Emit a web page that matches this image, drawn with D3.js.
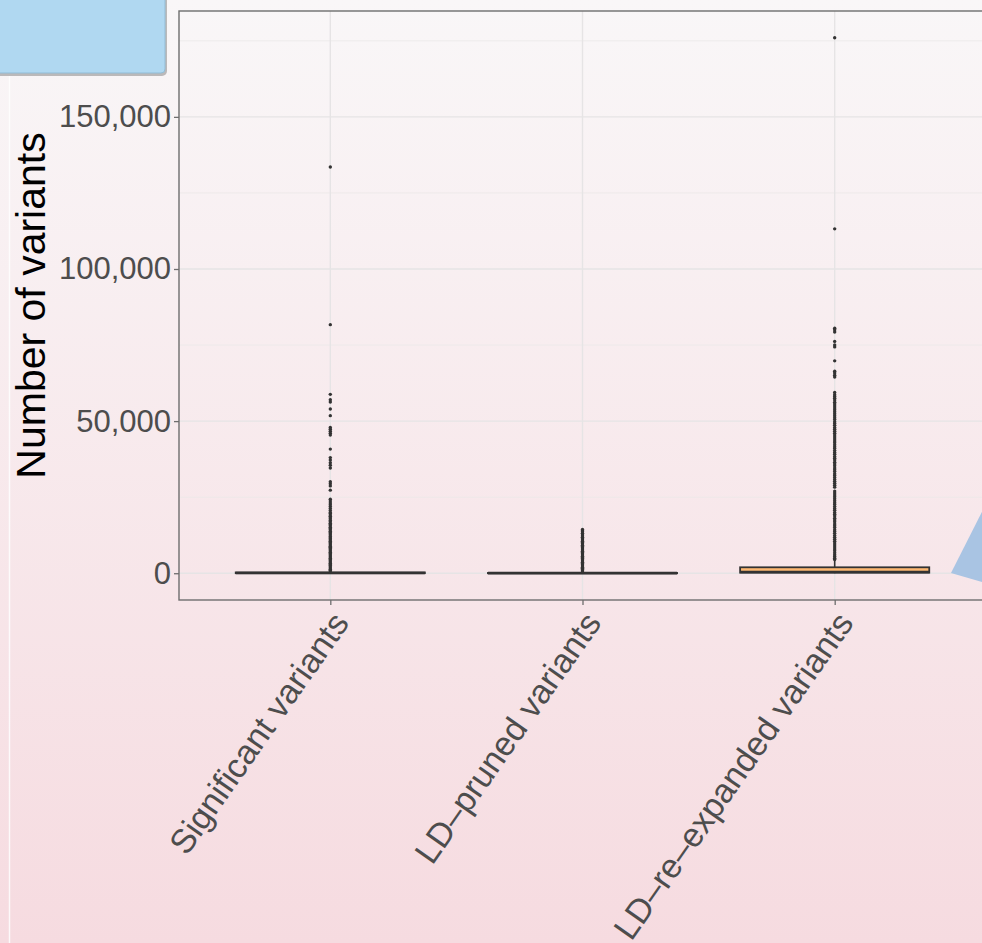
<!DOCTYPE html>
<html>
<head>
<meta charset="utf-8">
<script src="https://cdn.jsdelivr.net/npm/d3@7"></script>
<style>
  html, body { margin: 0; padding: 0; overflow: hidden; }
  svg { display: block; }
</style>
</head>
<body>
<script>
// Variant counts per locus, summarised as boxplots for three variant sets.
const categories = ["Significant variants", "LD\u2013pruned variants", "LD\u2013re\u2013expanded variants"];

// Box statistics: lower whisker, Q1, median, Q3, upper whisker
const whiskerLow  = [1, 1, 1];
const q1Values    = [20, 5, 180];
const medianValues = [80, 20, 420];
const q3Values    = [260, 90, 1950];
const whiskerHigh = [620, 210, 4300];

// Outlying loci (number of variants)
const outliersSignificant = [
  133500, 81700, 58800, 57000, 56300, 54000, 51800, 47900, 47300, 46700, 46000, 45400,
  40800, 38000, 37200, 36300, 35500, 34600, 30100, 29400, 28700, 27300, 24300, 23700,
  23100, 22500, 21900, 21300, 20600, 20000, 19600, 19100, 18700, 18200, 17800, 17300,
  16900, 16400, 16000, 15600, 15100, 14700, 14300, 13800, 13400, 13000, 12600, 12100,
  11700, 11300, 10900, 10500, 10100, 9700, 9300, 8900, 8500, 8100, 7700, 7300, 6900,
  6500, 6100, 5700, 5300, 4900, 4500, 4100, 3700, 3300, 2900, 2500, 2100, 1700, 1300,
  900, 700
];
const outliersPruned = [
  14400, 14000, 13600, 13100, 12600, 12200, 11800, 11300, 10900, 10500, 10100, 9700,
  9200, 8800, 8400, 8000, 7600, 7200, 6800, 6400, 6000, 5600, 5200, 4800, 4400, 4000,
  3600, 3200, 2800, 2400, 2000, 1600, 1200, 800, 400
];
const outliersExpanded = [
  176000, 113200, 80500, 80000, 79300, 76200, 75000, 74400, 69800, 66400, 65800, 65100,
  64500, 59400, 58700, 58100, 57500, 56900, 56200, 55600, 55000, 54300, 53700, 53100,
  52400, 51800, 51100, 50500, 49800, 49200, 48600, 47900, 47300, 46700, 46000, 45400,
  44800, 44100, 43500, 42900, 42200, 41600, 41000, 40300, 39700, 39100, 38400, 37800,
  37200, 36500, 35900, 35300, 34600, 34000, 33400, 32700, 32100, 31500, 30800, 30200,
  29600, 28900, 28300, 27000, 26400, 25700, 25100, 24500, 23800, 23200, 22600, 21900,
  21300, 20700, 20000, 19400, 18800, 18100, 17500, 16900, 16200, 15600, 15000, 14300,
  13700, 13100, 12400, 11800, 11200, 10500, 9900, 9300, 8600, 8000, 7400, 6700, 6100,
  5500, 4900, 4500
];
const outlierSets = [outliersSignificant, outliersPruned, outliersExpanded];

const yTicks = [0, 50000, 100000, 150000];
const yMinorTicks = [25000, 75000, 125000, 175000];
const yDomain = [-8800, 184800];

const W = 982, H = 943;
const panel = { left: 179, top: 11, bottom: 600, right: 986 };
const labelAngle = 55;

const svg = d3.select("body").append("svg").attr("width", W).attr("height", H);
const defs = svg.append("defs");

// Page background: soft vertical gradient
const bg = defs.append("linearGradient").attr("id", "bgGrad")
  .attr("x1", 0).attr("y1", 0).attr("x2", 0).attr("y2", 1);
bg.append("stop").attr("offset", "0%").attr("stop-color", "#f9f7f8");
bg.append("stop").attr("offset", "100%").attr("stop-color", "#f6dbe0");
svg.append("rect").attr("width", W).attr("height", H).attr("fill", "url(#bgGrad)");

// Decorative frame pieces
svg.append("line").attr("x1", 9.5).attr("x2", 9.5).attr("y1", 76).attr("y2", H)
  .attr("stroke", "#ffffff").attr("stroke-width", 1.5).attr("opacity", 0.85);
svg.append("rect").attr("x", -12).attr("y", -12).attr("width", 179).attr("height", 88)
  .attr("rx", 5).attr("fill", "#7d7d7d").attr("opacity", 0.5);
svg.append("rect").attr("x", -12).attr("y", -12).attr("width", 177).attr("height", 85)
  .attr("rx", 4).attr("fill", "#b0d8f1").attr("stroke", "#93bdd6").attr("stroke-width", 1);

// Scales
const x = d3.scaleLinear().domain([0.4, 3.6]).range([panel.left, panel.right]);
const y = d3.scaleLinear().domain(yDomain).range([panel.bottom, panel.top]);
const band = x(1) - x(0);
const boxW = band * 0.75;

// Grid
const grid = svg.append("g");
grid.selectAll("line.minor").data(yMinorTicks).join("line")
  .attr("x1", panel.left).attr("x2", panel.right)
  .attr("y1", d => y(d)).attr("y2", d => y(d))
  .attr("stroke", "#ebe8e9").attr("stroke-width", 0.8);
grid.selectAll("line.major").data(yTicks).join("line")
  .attr("x1", panel.left).attr("x2", panel.right)
  .attr("y1", d => y(d)).attr("y2", d => y(d))
  .attr("stroke", "#e6e4e5").attr("stroke-width", 1.4);
grid.selectAll("line.vx").data(categories).join("line")
  .attr("x1", (d, i) => x(i + 1)).attr("x2", (d, i) => x(i + 1))
  .attr("y1", panel.top).attr("y2", panel.bottom)
  .attr("stroke", "#e6e4e5").attr("stroke-width", 1.4);

// Boxplots
const boxes = svg.append("g");
categories.forEach((c, i) => {
  const cx = x(i + 1);
  const g = boxes.append("g");
  g.append("line").attr("x1", cx).attr("x2", cx)
    .attr("y1", y(q3Values[i])).attr("y2", y(whiskerHigh[i]))
    .attr("stroke", "#333333").attr("stroke-width", 1.6);
  g.append("line").attr("x1", cx).attr("x2", cx)
    .attr("y1", y(q1Values[i])).attr("y2", y(whiskerLow[i]))
    .attr("stroke", "#333333").attr("stroke-width", 1.6);
  g.append("rect")
    .attr("x", cx - boxW / 2).attr("width", boxW)
    .attr("y", y(q3Values[i])).attr("height", Math.max(0, y(q1Values[i]) - y(q3Values[i])))
    .attr("fill", "#fdb872").attr("stroke", "#333333").attr("stroke-width", 1.8);
  g.append("line").attr("x1", cx - boxW / 2).attr("x2", cx + boxW / 2)
    .attr("y1", y(medianValues[i])).attr("y2", y(medianValues[i]))
    .attr("stroke", "#333333").attr("stroke-width", 2.6);
  g.selectAll("circle").data(outlierSets[i]).join("circle")
    .attr("cx", cx).attr("cy", d => y(d)).attr("r", 1.7)
    .attr("fill", "#333333");
});

// Panel border
svg.append("rect").attr("x", panel.left).attr("y", panel.top)
  .attr("width", panel.right - panel.left).attr("height", panel.bottom - panel.top)
  .attr("fill", "none").attr("stroke", "#6e6e6e").attr("stroke-width", 1.4);

// Y axis
const yAxis = svg.append("g").attr("transform", `translate(${panel.left},0)`)
  .call(d3.axisLeft(y).tickValues(yTicks).tickSize(5).tickPadding(3)
    .tickFormat(d3.format(",")));
yAxis.select(".domain").remove();
yAxis.selectAll(".tick line").attr("stroke", "#6e6e6e").attr("stroke-width", 1.3);
yAxis.selectAll(".tick text").attr("fill", "#4d4d4d")
  .style("font-family", "'Liberation Sans', Arial, sans-serif").style("font-size", "31px");

// X axis
const xAxis = svg.append("g").attr("transform", `translate(0,${panel.bottom})`)
  .call(d3.axisBottom(x).tickValues([1, 2, 3]).tickSize(5).tickFormat(""));
xAxis.select(".domain").remove();
xAxis.selectAll(".tick line").attr("stroke", "#6e6e6e").attr("stroke-width", 1.3);

// Category labels, rotated and right-aligned under each tick
svg.append("g").selectAll("text").data(categories).join("text")
  .attr("transform", (d, i) => `translate(${x(i + 1) + 20},${panel.bottom + 23}) rotate(${-labelAngle})`)
  .attr("text-anchor", "end")
  .attr("fill", "#4d4d4d")
  .style("font-family", "'Liberation Sans', Arial, sans-serif").style("font-size", "34px")
  .text(d => d);

// Y axis title
svg.append("text")
  .attr("transform", `translate(45,${(panel.top + panel.bottom) / 2}) rotate(-90)`)
  .attr("text-anchor", "middle").attr("fill", "#000000")
  .style("font-family", "'Liberation Sans', Arial, sans-serif").style("font-size", "41px")
  .text("Number of variants");

// Decorative pointer at right edge
svg.append("polygon")
  .attr("points", [[951, 573], [992, 492], [992, 585]].map(p => p.join(",")).join(" "))
  .attr("fill", "#a9c4e3");
</script>
</body>
</html>
